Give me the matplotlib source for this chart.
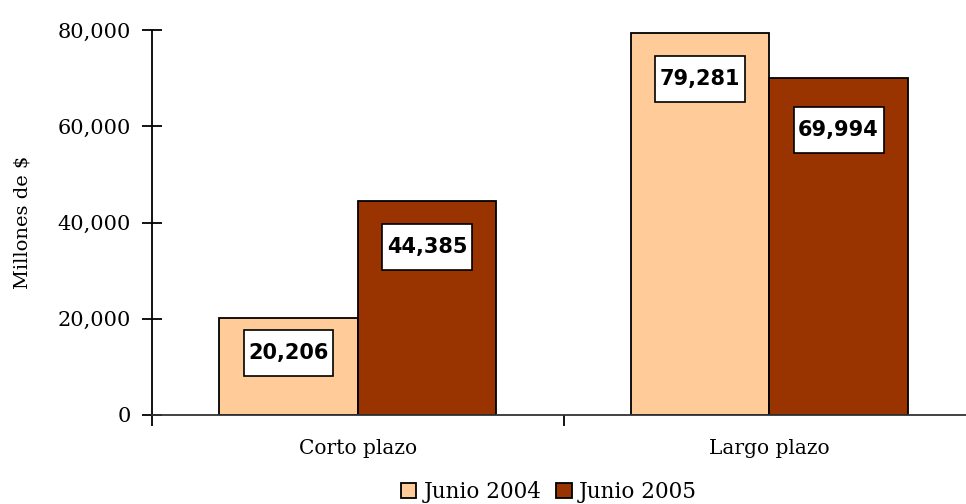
import matplotlib
matplotlib.use("Agg")
import matplotlib.pyplot as plt
from matplotlib.path import Path
import numpy as np

categories = ["Corto plazo", "Largo plazo"]
series_names = ["Junio 2004", "Junio 2005"]
junio_2004 = [20206, 79281]
junio_2005 = [44385, 69994]
yticks = [0, 20000, 40000, 60000, 80000]
ytick_labels = ["0", "20,000", "40,000", "60,000", "80,000"]
colors = ["#FFCC99", "#993300"]
label_offsets = [[-25.5, -33], [-32.8, -37.4]]  # points below bar top, per series

serif = "DejaVu Serif"

fig = plt.figure(figsize=(9.66, 5.04), dpi=100)
ax = fig.add_axes([152/966, 89/504, 823/966, 385/504])

x = np.arange(len(categories))
w = 0.337

def label_box(x0, y0, width, height, mutation_size):
    px = 0.22 * mutation_size
    py = 0.62 * mutation_size
    xa, xb = x0 - px, x0 + width + px
    ya, yb = y0 - py, y0 + height + py
    return Path([(xa, ya), (xb, ya), (xb, yb), (xa, yb), (xa, ya)],
                [Path.MOVETO, Path.LINETO, Path.LINETO, Path.LINETO, Path.CLOSEPOLY])

for i, (vals, col, name) in enumerate(zip([junio_2004, junio_2005], colors, series_names)):
    pos = x + (i - 0.5) * w
    bars = ax.bar(pos, vals, width=w, color=col, edgecolor="black", linewidth=1.3,
                  label=name, zorder=2)
    for j, (b, v) in enumerate(zip(bars, vals)):
        ax.annotate(f"{v:,}", xy=(b.get_x() + b.get_width()/2, v),
                    xytext=(0, label_offsets[i][j]),
                    textcoords="offset points", ha="center", va="center",
                    fontsize=15, fontweight="bold", family="DejaVu Sans",
                    bbox=dict(boxstyle=label_box, facecolor="white",
                              edgecolor="black", linewidth=1.2), zorder=3)

ax.set_xlim(-0.5, 1.5)
ax.set_ylim(0, 80000)
ax.set_yticks(yticks)
ax.set_yticklabels(ytick_labels, family=serif, fontsize=15)
ax.tick_params(axis="y", direction="inout", length=14, width=1.3, pad=8)
ax.set_xticks([-0.5, 0.5, 1.5])
ax.set_xticklabels([])
ax.set_xticks(x, minor=True)
ax.set_xticklabels(categories, minor=True, family=serif, fontsize=14.5)
ax.tick_params(axis="x", which="major", direction="out", length=8, width=1.3)
ax.tick_params(axis="x", which="minor", length=0, pad=17)

for s in ["top", "right"]:
    ax.spines[s].set_visible(False)
ax.spines["left"].set_linewidth(1.3)
ax.spines["bottom"].set_linewidth(1.3)
ax.spines["bottom"].set_color("#333333")

ax.set_ylabel("Millones de $", family=serif, fontsize=14)
ax.yaxis.set_label_coords(-0.146, 0.5)

fig.legend(loc="lower center", bbox_to_anchor=(549/966, -0.02), ncol=2, frameon=False,
           prop=dict(family=serif, size=15.5), handlelength=0.7, handleheight=0.7,
           handletextpad=0.35, columnspacing=0.7, borderaxespad=0.1)

fig.savefig("out.png", dpi=100)
